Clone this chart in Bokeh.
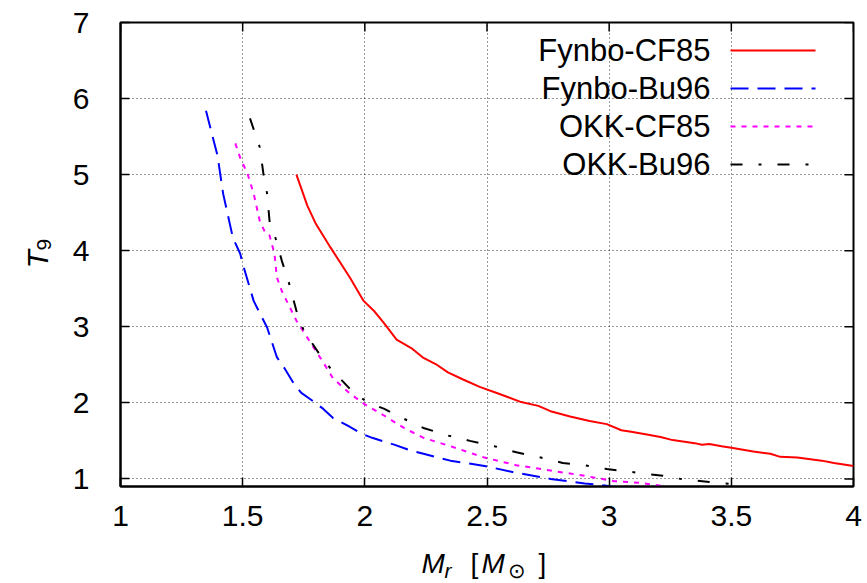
import math
from bokeh.plotting import figure
from bokeh.models import Range1d, FixedTicker, Label
from bokeh.layouts import row, column
from bokeh.embed import file_html
from bokeh.resources import INLINE

# ---- data ----
fynbo_cf85_x = [1.72, 1.765, 1.80, 1.86, 1.94, 1.995, 2.04, 2.08, 2.13, 2.19, 2.24, 2.29, 2.34, 2.40,
                2.47, 2.54, 2.64, 2.71, 2.76, 2.84, 2.92, 2.99, 3.05, 3.09, 3.16, 3.21, 3.26, 3.35,
                3.38, 3.41, 3.46, 3.50, 3.59, 3.66, 3.70, 3.77, 3.87, 3.92, 4.0]
fynbo_cf85_y = [5.0, 4.59, 4.35, 4.04, 3.64, 3.34, 3.20, 3.04, 2.83, 2.72, 2.59, 2.51, 2.40, 2.31,
                2.21, 2.13, 2.01, 1.96, 1.89, 1.82, 1.76, 1.72, 1.64, 1.62, 1.58, 1.55, 1.51, 1.47,
                1.45, 1.46, 1.43, 1.41, 1.36, 1.33, 1.29, 1.28, 1.24, 1.21, 1.17]

fynbo_bu96_x = [1.35, 1.397, 1.42, 1.46, 1.49, 1.50, 1.545, 1.60, 1.64, 1.67, 1.71, 1.74, 1.78, 1.83,
                1.87, 1.93, 1.99, 2.03, 2.12, 2.19, 2.24, 2.35, 2.49, 2.62, 2.76, 2.90, 2.99, 3.02]
fynbo_bu96_y = [5.84, 5.25, 4.75, 4.17, 3.96, 3.83, 3.34, 2.99, 2.60, 2.46, 2.25, 2.13, 2.04, 1.92,
                1.80, 1.70, 1.59, 1.54, 1.45, 1.37, 1.33, 1.24, 1.17, 1.08, 1.00, 0.94, 0.91, 0.89]

okk_cf85_x = [1.47, 1.49, 1.52, 1.545, 1.57, 1.595, 1.61, 1.63, 1.64, 1.66, 1.68, 1.72, 1.78, 1.83,
              1.87, 1.94, 1.995, 2.08, 2.16, 2.24, 2.35, 2.49, 2.62, 2.76, 2.90, 3.02, 3.12, 3.21, 3.23]
okk_cf85_y = [5.41, 5.22, 5.01, 4.75, 4.39, 4.22, 4.20, 3.96, 3.65, 3.47, 3.34, 3.08, 2.78, 2.53,
              2.32, 2.12, 1.99, 1.83, 1.67, 1.54, 1.43, 1.28, 1.18, 1.11, 1.04, 0.97, 0.95, 0.91, 0.89]

okk_bu96_x = [1.53, 1.55, 1.57, 1.585, 1.60, 1.61, 1.635, 1.66, 1.69, 1.72, 1.75, 1.81, 1.86, 1.94,
              2.00, 2.04, 2.08, 2.16, 2.24, 2.34, 2.43, 2.53, 2.62, 2.72, 2.81, 2.90, 2.99, 3.12,
              3.22, 3.31, 3.41, 3.51, 3.54]
okk_bu96_y = [5.74, 5.55, 5.36, 5.01, 4.75, 4.39, 4.16, 3.87, 3.57, 3.21, 2.95, 2.66, 2.45, 2.18,
              2.03, 1.97, 1.92, 1.79, 1.67, 1.57, 1.50, 1.43, 1.35, 1.28, 1.21, 1.18, 1.13, 1.08,
              1.04, 0.99, 0.96, 0.93, 0.91]

x_ticks = [1, 1.5, 2, 2.5, 3, 3.5, 4]
y_ticks = [1, 2, 3, 4, 5, 6, 7]
series_names = ["Fynbo-CF85", "Fynbo-Bu96", "OKK-CF85", "OKK-Bu96"]

FONT = "Liberation Sans"
FS = "30px"
FS_LEG = "31px"
FS_T = "28px"
FS_SUB = "21px"

W, H = 867, 583
YT_W = 60           # strip holding the y title
XT_H = 37           # strip holding the x title
FW, FH = 733, 464
FRAME_LEFT = 120    # canvas x of the frame's left edge
XMIN, XMAX, YMIN, YMAX = 1.0, 4.0, 0.9, 7.0
TICK = 9  # px, inward tick length

p = figure(width=W - YT_W, height=H - XT_H, frame_width=FW, frame_height=FH,
           x_range=Range1d(XMIN, XMAX), y_range=Range1d(YMIN, YMAX),
           output_backend="svg", toolbar_location=None,
           min_border_left=FRAME_LEFT - YT_W, min_border_right=14, min_border_top=22,
           min_border_bottom=H - XT_H - 22 - FH)
p.background_fill_color = "white"
p.border_fill_color = "white"
p.outline_line_color = "black"
p.outline_line_width = 2

for ax, ticks in ((p.xaxis[0], x_ticks), (p.yaxis[0], y_ticks)):
    ax.ticker = FixedTicker(ticks=ticks)
    ax.minor_tick_line_color = None
    ax.major_tick_in = TICK
    ax.major_tick_out = 0
    ax.major_tick_line_width = 1.5
    ax.axis_line_width = 2
    ax.major_label_text_font = FONT
    ax.major_label_text_font_size = FS
    ax.major_label_text_color = "black"
p.xaxis[0].major_label_standoff = 19
p.yaxis[0].major_label_standoff = 31

p.xgrid[0].ticker = FixedTicker(ticks=x_ticks)
p.ygrid[0].ticker = FixedTicker(ticks=y_ticks)
for g in (p.xgrid[0], p.ygrid[0]):
    g.grid_line_color = "black"
    g.grid_line_alpha = 0.8
    g.grid_line_dash = "1 3"
    g.grid_line_width = 1

def px2x(px):
    return XMIN + px / FW * (XMAX - XMIN)

def py2y(py):
    return YMIN + py / FH * (YMAX - YMIN)

# mirrored ticks on the top and right edges (gnuplot style)
dx_tick = px2x(TICK) - XMIN
dy_tick = py2y(TICK) - YMIN
p.segment(x0=x_ticks, y0=[YMAX] * len(x_ticks), x1=x_ticks, y1=[YMAX - dy_tick] * len(x_ticks),
          line_color="black", line_width=1.5)
p.segment(x0=[XMAX] * len(y_ticks), y0=y_ticks, x1=[XMAX - dx_tick] * len(y_ticks), y1=y_ticks,
          line_color="black", line_width=1.5)

styles = [
    dict(color="#ff0000", dash="solid"),
    dict(color="#0000ff", dash="18 9"),
    dict(color="#ff00ff", dash="5 6"),
    dict(color="black", dash="12 16 3 16"),
]
datasets = [(fynbo_cf85_x, fynbo_cf85_y), (fynbo_bu96_x, fynbo_bu96_y),
            (okk_cf85_x, okk_cf85_y), (okk_bu96_x, okk_bu96_y)]

for (xs, ys), st in zip(datasets, styles):
    p.line(xs, ys, line_color=st["color"], line_dash=st["dash"], line_width=2)

# ---- gnuplot-style legend (text right-justified, sample to the right) ----
leg_text_right = 590
leg_line_x0, leg_line_x1 = 610, 695
leg_y0, leg_dy = 436, 38
for i, (name, st) in enumerate(zip(series_names, styles)):
    yy = leg_y0 - i * leg_dy
    p.add_layout(Label(x=leg_text_right, y=yy, x_units="screen", y_units="screen", text=name,
                       text_font=FONT, text_font_size=FS_LEG, text_align="right",
                       text_baseline="middle", text_color="black"))
    p.line([px2x(leg_line_x0), px2x(leg_line_x1)], [py2y(yy), py2y(yy)],
           line_color=st["color"], line_dash=st["dash"], line_width=2)


# ---- axis titles: small text-only strips, built from pieces ----
def strip(w, h):
    f = figure(width=w, height=h, x_range=Range1d(0, 1), y_range=Range1d(0, 1),
               output_backend="svg", toolbar_location=None,
               min_border=0, min_border_left=0, min_border_right=0,
               min_border_top=0, min_border_bottom=0)
    f.axis.visible = False
    f.grid.visible = False
    f.outline_line_color = None
    f.background_fill_color = "white"
    f.border_fill_color = "white"
    return f


def lab(fig, x, y, text, size=FS_T, style="normal", angle=0.0, align="left"):
    fig.add_layout(Label(x=x, y=y, x_units="screen", y_units="screen", text=text,
                         text_font=FONT, text_font_size=size, text_font_style=style,
                         angle=angle, text_align=align, text_baseline="alphabetic",
                         text_color="black"))


# x title: M_r [ M_sun ]  -- the strip's frame is aligned with the main frame
xt = strip(W - YT_W, XT_H)
ox = FRAME_LEFT
by = 20   # baseline height above the strip's bottom
lab(xt, 421 - ox, by, "M", style="italic")
lab(xt, 444 - ox, by - 7, "r", size=FS_SUB, style="italic")
lab(xt, 470 - ox, by, "[")
lab(xt, 481 - ox, by, "M", style="italic")
lab(xt, 507 - ox, by - 7, "\u2299", size=FS_SUB)
lab(xt, 538 - ox, by, "]")

# y title: T_9 (rotated, reads bottom to top)
yt = strip(YT_W, H)
lab(yt, 37, H - 268, "T", size=FS, style="italic", angle=math.pi / 2)
lab(yt, 43, H - 250, "9", size=FS_SUB, angle=math.pi / 2)

layout = row(yt, column(p, xt, spacing=0), spacing=0)
open("out.html", "w").write(file_html(layout, INLINE))
